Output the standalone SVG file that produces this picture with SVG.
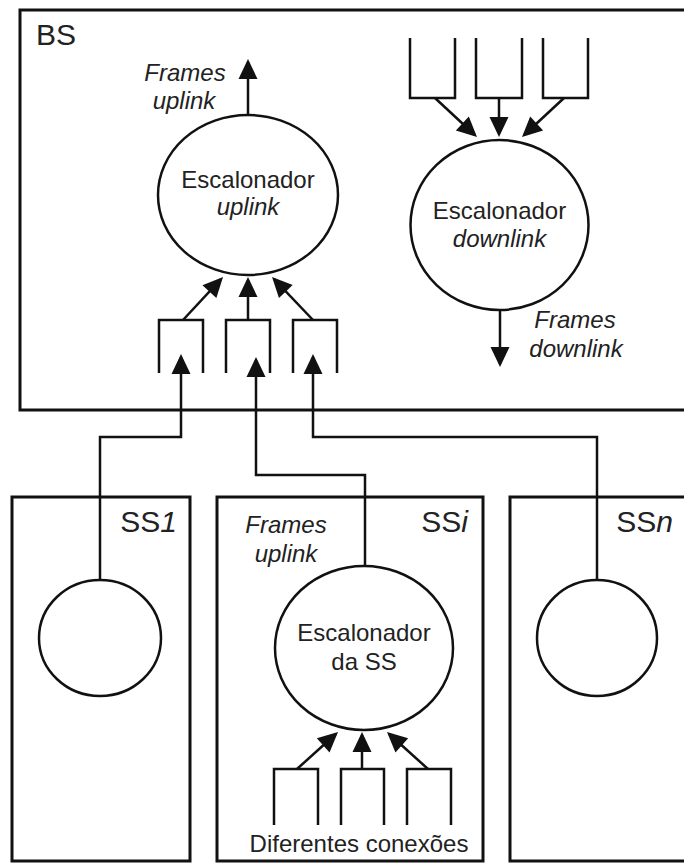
<svg xmlns="http://www.w3.org/2000/svg" width="684" height="864" viewBox="0 0 684 864">
<style>
.box{fill:none;stroke:#111;stroke-width:3}
.sched{fill:#fff;stroke:#111;stroke-width:2.5}
.q{fill:none;stroke:#111;stroke-width:2.5;stroke-linejoin:miter}
.c{fill:none;stroke:#111;stroke-width:2.5}
.a{fill:none;stroke:#111;stroke-width:2.5;marker-end:url(#ah)}
text{font-family:"Liberation Sans",Arial,sans-serif;fill:#222;font-size:24px}
.lbl{font-size:30px}
.i{font-style:italic}
.m{text-anchor:middle}
.e{text-anchor:end}
</style>
<defs>
<marker id="ah" markerUnits="userSpaceOnUse" markerWidth="20" markerHeight="20" refX="17" refY="9.5" orient="auto" overflow="visible">
<path d="M0,0 L20,9.5 L0,19 z" fill="#111"/>
</marker>
</defs>

<g id="BS">
<rect class="box" x="20" y="10" width="680" height="400"/>
<text class="lbl" x="36" y="45">BS</text>
</g>

<g id="SS1">
<rect class="box" x="12" y="497" width="178" height="364"/>
<text class="lbl e" x="177" y="532">SS<tspan class="i">1</tspan></text>
<ellipse class="sched" cx="100" cy="638" rx="61" ry="58"/>
</g>

<g id="SSi">
<rect class="box" x="217" y="497" width="266" height="364"/>
<text class="lbl e" x="468" y="532">SS<tspan class="i">i</tspan></text>
<text class="i m" x="286" y="533">Frames</text>
<text class="i m" x="286" y="562">uplink</text>
</g>

<g id="SSn">
<rect class="box" x="510" y="497" width="200" height="364"/>
<text class="lbl e" x="673" y="532">SS<tspan class="i">n</tspan></text>
<ellipse class="sched" cx="597" cy="638" rx="60" ry="58"/>
</g>

<g id="uplink-scheduler">
<ellipse class="sched" cx="248" cy="195" rx="90" ry="80"/>
<text class="m" x="248" y="188">Escalonador</text>
<text class="m i" x="248" y="215">uplink</text>
<text class="i m" x="185" y="81">Frames</text>
<text class="i m" x="184" y="109">uplink</text>
</g>

<g id="uplink-queues">
<path class="q" d="M159,373 V320 H203 V373"/>
<path class="q" d="M226,373 V320 H270 V373"/>
<path class="q" d="M293,373 V320 H337 V373"/>
</g>

<g id="downlink-scheduler">
<ellipse class="sched" cx="499.5" cy="225" rx="89" ry="85"/>
<text class="m" x="499.5" y="219">Escalonador</text>
<text class="m i" x="499.5" y="247">downlink</text>
<text class="i m" x="575" y="328">Frames</text>
<text class="i m" x="576" y="357">downlink</text>
</g>

<g id="downlink-queues">
<path class="q" d="M410,38 V98 H455 V38"/>
<path class="q" d="M476,38 V98 H522 V38"/>
<path class="q" d="M543,38 V98 H588 V38"/>
</g>

<g id="ss-scheduler">
<ellipse class="sched" cx="364" cy="648" rx="89" ry="82"/>
<text class="m" x="364" y="641">Escalonador</text>
<text class="m" x="364" y="670">da SS</text>
</g>

<g id="ss-queues">
<path class="q" d="M274,825 V769 H318 V825"/>
<path class="q" d="M341,825 V769 H384 V825"/>
<path class="q" d="M407,825 V769 H451 V825"/>
<text class="m" x="359" y="852">Diferentes conexões</text>
</g>

<g id="connectors">
<path class="a" d="M248,115 V62"/>
<path class="a" d="M183,320 L221,279.2"/>
<path class="a" d="M248,320 V280"/>
<path class="a" d="M313,320 L274.1,279.2"/>
<path class="a" d="M435,98 L474.8,135"/>
<path class="a" d="M499,98 V134"/>
<path class="a" d="M564,98 L524.2,135"/>
<path class="a" d="M500,310 V364"/>
<path class="a" d="M297,769 L335.8,734"/>
<path class="a" d="M362,769 V735"/>
<path class="a" d="M428,769 L389.2,734"/>
<path class="a" d="M100,580 V437 H181 V357"/>
<path class="a" d="M365,567 V475 H256 V360"/>
<path class="a" d="M597,580 V437 H313 V357"/>
</g>
</svg>
